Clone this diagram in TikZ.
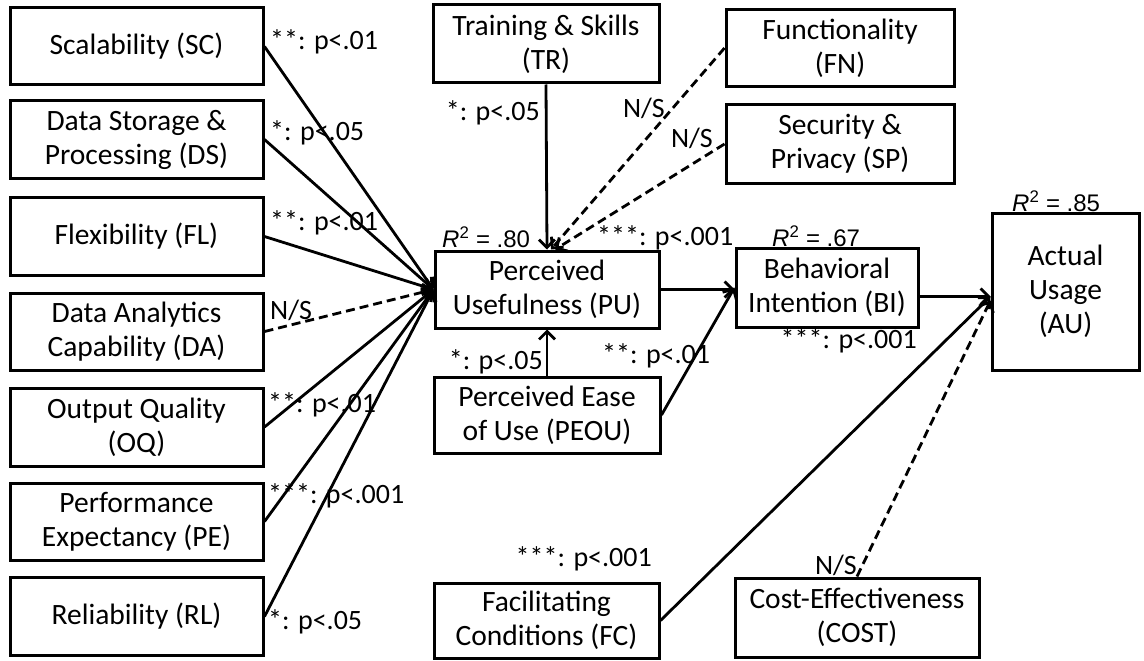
\documentclass[tikz,border=0pt]{standalone}
\usepackage{fontspec}
\setmainfont{Carlito}
\newfontfamily\arialf{Liberation Sans}
\usetikzlibrary{arrows.meta,calc}
\begin{document}
\begin{tikzpicture}[x=1pt,y=-1pt,
  box/.style={draw,line width=3pt,inner sep=0pt,align=center,font=\fontsize{29.5}{34}\selectfont},
  lab/.style={inner sep=0pt,font=\fontsize{28}{30}\selectfont},
  rsq/.style={inner sep=0pt,font=\arialf\fontsize{24}{26}\selectfont},
  conn/.style={line width=2.8pt},
  arr/.style={conn,-{Straight Barb[length=8pt,width=16pt]}},
  dsh/.style={dash pattern=on 9pt off 5pt}]
\useasboundingbox (0,0) rectangle (1144,661);
% left column
\node[box,minimum width=253pt,minimum height=77pt] (SC) at (136.5,46.5) {Scalability (SC)};
\node[box,minimum width=253pt,minimum height=77pt] (DS) at (136.5,139.5) {Data Storage \&\\Processing (DS)};
\node[box,minimum width=253pt,minimum height=78pt] (FL) at (136.5,236.5) {Flexibility (FL)};
\node[box,minimum width=253pt,minimum height=77pt] (DA) at (136.5,331.5) {Data Analytics\\Capability (DA)};
\node[box,minimum width=253pt,minimum height=78pt] (OQ) at (136.5,427) {Output Quality\\(OQ)};
\node[box,minimum width=253pt,minimum height=77pt] (PE) at (136.5,521.5) {Performance\\Expectancy (PE)};
\node[box,minimum width=253pt,minimum height=78pt] (RL) at (136.5,616.5) {Reliability (RL)};
% middle
\node[box,minimum width=226pt,minimum height=78pt] (TR) at (546,44) {Training \& Skills\\(TR)};
\node[box,minimum width=228pt,minimum height=77pt] (FN) at (840,48) {Functionality\\(FN)};
\node[box,minimum width=228pt,minimum height=78pt] (SP) at (840,144) {Security \&\\Privacy (SP)};
\node[box,minimum width=224pt,minimum height=77pt] (PU) at (547,289.5) {Perceived\\Usefulness (PU)};
\node[box,minimum width=226pt,minimum height=76pt] (PEOU) at (547,415) {Perceived Ease\\of Use (PEOU)};
\node[box,minimum width=182pt,minimum height=79pt] (BI) at (827,287.5) {Behavioral\\Intention (BI)};
\node[box,minimum width=147pt,minimum height=157pt] (AU) at (1065.5,291.5) {Actual\\Usage\\(AU)};
\node[box,minimum width=225pt,minimum height=75pt] (FC) at (546.5,620.5) {Facilitating\\Conditions (FC)};
\node[box,minimum width=244pt,minimum height=79pt] (COST) at (857,617.5) {Cost-Effectiveness\\(COST)};
\coordinate (auin) at ($(AU.west)+(0,5)$);
\coordinate (auin2) at ($(AU.west)+(0,9)$);
% connectors
\draw[arr] (SC.east) -- (PU.west);
\draw[arr] (DS.east) -- (PU.west);
\draw[arr] (FL.east) -- (PU.west);
\draw[arr,dsh] (DA.east) -- (PU.west);
\draw[arr] (OQ.east) -- (PU.west);
\draw[arr] (PE.east) -- (PU.west);
\draw[arr] (RL.east) -- (PU.west);
\draw[arr] (TR.south) -- (PU.north);
\draw[arr,dsh] (FN.west) -- ([xshift=4pt]PU.north);
\draw[arr,dsh] (SP.west) -- ([xshift=8pt]PU.north);
\draw[arr] (PEOU.north) -- (PU.south);
\draw[arr] (PU.east) -- (PU.east -| BI.west);
\draw[arr] (PEOU.east) -- (BI.west);
\draw[arr] (BI.east |- auin) -- (auin);
\draw[arr] (FC.east) -- (auin);
\draw[arr,dsh] (COST.north) -- (auin2);
% labels
\node[lab,anchor=west] (l1) at (270,42) {**: p<.01};
\node[lab,anchor=west] (l2) at (270,133) {*: p<.05};
\node[lab,anchor=west] (l3) at (270,223) {**: p<.01};
\node[lab,anchor=west] (l4) at (270,310) {N/S};
\node[lab,anchor=west] (l5) at (268,405) {**: p<.01};
\node[lab,anchor=west] (l6) at (268,496) {***: p<.001};
\node[lab,anchor=west] (l7) at (268,622) {*: p<.05};
\node[lab,anchor=east] (l8) at (540,113) {*: p<.05};
\node[lab,anchor=east] (l9) at (665,108) {N/S};
\node[lab,anchor=east] (l10) at (713,138) {N/S};
\node[lab,anchor=west] (l11) at (597,238) {***: p<.001};
\node[lab,anchor=east] (l12) at (917,341) {***: p<.001};
\node[lab,anchor=east] (l13) at (543,362) {*: p<.05};
\node[lab,anchor=west] (l14) at (602,356) {**: p<.01};
\node[lab,anchor=east] (l15) at (652,559) {***: p<.001};
\node[lab,anchor=east] (l16) at (857,565) {N/S};
\node[rsq,anchor=west] (r1) at (442,237) {\textit{R}\textsuperscript{2} = .80};
\node[rsq,anchor=west] (r2) at (772,236) {\textit{R}\textsuperscript{2} = .67};
\node[rsq,anchor=west] (r3) at (1012,201) {\textit{R}\textsuperscript{2} = .85};
\end{tikzpicture}
\end{document}
